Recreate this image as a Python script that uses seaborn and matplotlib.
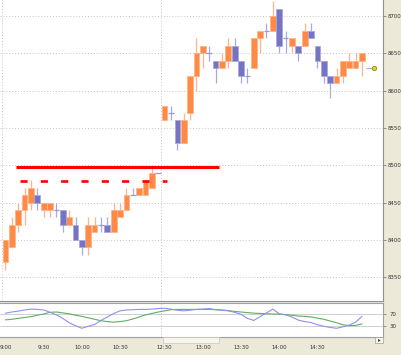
import matplotlib
matplotlib.use("Agg")
import matplotlib.pyplot as plt
from matplotlib.patches import Rectangle
import seaborn as sns
import pandas as pd

# 5-minute candles, morning 9:00-11:00 and afternoon from 12:30
opens = [8370, 8390, 8420, 8440, 8450, 8460, 8440, 8440, 8440, 8440, 8420, 8420, 8400,
         8390, 8410, 8420, 8420, 8410, 8430, 8440, 8460, 8460, 8460, 8470, 8490,
         8560, 8570, 8560, 8530, 8570, 8620, 8650, 8650, 8640, 8630, 8640, 8660, 8640,
         8620, 8630, 8670, 8680, 8680, 8710, 8670, 8660, 8660, 8660, 8680, 8660, 8640,
         8620, 8610, 8620, 8630, 8630, 8640]
highs = [8400, 8430, 8450, 8470, 8480, 8470, 8450, 8450, 8450, 8440, 8440, 8430, 8400,
         8430, 8430, 8430, 8430, 8450, 8450, 8470, 8470, 8470, 8480, 8500, 8490,
         8580, 8580, 8560, 8570, 8620, 8670, 8660, 8660, 8640, 8650, 8670, 8670, 8640,
         8630, 8670, 8680, 8690, 8720, 8710, 8680, 8670, 8660, 8690, 8690, 8660, 8640,
         8620, 8630, 8640, 8650, 8650, 8650]
lows = [8360, 8390, 8410, 8420, 8440, 8440, 8430, 8430, 8430, 8410, 8420, 8400, 8380,
        8380, 8410, 8410, 8410, 8410, 8430, 8440, 8460, 8460, 8460, 8470, 8490,
        8560, 8560, 8520, 8530, 8560, 8600, 8630, 8640, 8610, 8630, 8630, 8640, 8610,
        8610, 8630, 8650, 8670, 8680, 8650, 8650, 8650, 8640, 8660, 8670, 8630, 8610,
        8590, 8610, 8610, 8630, 8630, 8620]
closes = [8400, 8420, 8440, 8460, 8470, 8450, 8450, 8450, 8440, 8420, 8430, 8400, 8390,
          8420, 8420, 8420, 8410, 8440, 8440, 8460, 8460, 8470, 8480, 8490, 8490,
          8580, 8570, 8530, 8560, 8620, 8650, 8660, 8650, 8630, 8640, 8660, 8640, 8620,
          8620, 8670, 8680, 8680, 8700, 8660, 8670, 8670, 8650, 8680, 8670, 8640, 8620,
          8610, 8620, 8640, 8640, 8640, 8650]

# stochastic-like oscillator under the chart
osc_k = [73, 77, 80, 84, 87, 86, 84, 76, 67, 55, 40, 30, 21, 28, 34, 48, 60, 72, 81,
         84, 85, 86, 86, 87, 89, 90, 87, 83, 81, 83, 86, 87, 89, 85, 83, 81, 76, 69,
         55, 48, 61, 74, 87, 71, 67, 60, 49, 44, 41, 33, 28, 24, 21, 26, 32, 42, 62]
osc_d = [50, 52, 55, 58, 61, 66, 70, 76, 77, 74, 71, 66, 62, 57, 52, 47, 44, 42, 44,
         47, 53, 60, 67, 72, 77, 81, 85, 86, 86, 86, 86, 86, 86, 85, 84, 82, 79, 77,
         75, 73, 72, 71, 70, 70, 68, 66, 63, 62, 60, 56, 52, 46, 40, 33, 30, 31, 36]

tick_pos = [0, 6, 12, 18, 25, 31, 37, 43, 49]
tick_labels = ["9:00", "9:30", "10:00", "10:30", "12:30", "13:00", "13:30", "14:00", "14:30"]
price_ticks = [8350, 8400, 8450, 8500, 8550, 8600, 8650, 8700]
session_starts = [-0.5, 24.5]

resistance = 8498      # solid red line
old_top = 8479         # dashed red line
last_mark = 8630

UP = "#ff8a45"
UP_EDGE = "#ffb48a"
DOWN = "#7474c2"
DOWN_EDGE = "#a8a8e2"
BEIGE = "#ece9d8"
GRID = "#c4c4c4"

sns.set_style("white")
plt.rcParams["font.family"] = ["DejaVu Sans"]

fig = plt.figure(figsize=(4.01, 3.55), dpi=100)
fig.patch.set_facecolor(BEIGE)
ax = fig.add_axes([0, 54 / 355, 383 / 401, 301 / 355])
ax2 = fig.add_axes([0, 18 / 355, 383 / 401, 34 / 355])

x = list(range(len(opens)))

# wicks
wick_cols = [UP_EDGE if c > o else DOWN_EDGE for o, c in zip(opens, closes)]
ax.vlines(x, lows, highs, colors=wick_cols, linewidth=0.9, zorder=2)

# bodies
ups = [i for i in x if closes[i] > opens[i]]
downs = [i for i in x if closes[i] < opens[i]]
dojis = [i for i in x if closes[i] == opens[i]]
ax.bar(ups, [closes[i] - opens[i] for i in ups], bottom=[opens[i] for i in ups],
       width=0.9, color=UP, edgecolor=UP_EDGE, linewidth=0.6, zorder=3)
ax.bar(downs, [opens[i] - closes[i] for i in downs], bottom=[closes[i] for i in downs],
       width=0.9, color=DOWN, edgecolor=DOWN_EDGE, linewidth=0.6, zorder=3)
ax.hlines([opens[i] for i in dojis], [i - 0.45 for i in dojis], [i + 0.45 for i in dojis],
          colors="#9898dc", linewidth=0.9, zorder=3)

# red lines
ax.hlines(resistance, 1.65, 33.5, colors="#ff0000", linewidth=2.2, zorder=4)
ax.hlines(old_top, 2.3, 25.4, colors="#ff0000", linewidth=1.9, linestyles=(0, (2.7, 5.0)),
          zorder=4)

# current price marker
ax.hlines(last_mark, 56.7, 57.8, colors="#a8a8e0", linewidth=0.9, zorder=4)
ax.plot([57.9], [last_mark], marker="o", markersize=3.2, color="#d8d820",
        markeredgecolor="#808000", markeredgewidth=0.5, zorder=5)

ax.set_xlim(-0.86, 59.3)
ax.set_ylim(8318, 8721.5)
ax.set_yticks(price_ticks)
ax.set_xticks([])
for p in price_ticks:
    ax.axhline(p, color=GRID, linewidth=0.7, linestyle=(0, (1, 2)), zorder=1)
for s in session_starts:
    ax.axvline(s, color=GRID, linewidth=0.7, linestyle=(0, (1, 2)), zorder=1)
ax.yaxis.tick_right()
ax.tick_params(axis="y", direction="out", length=2, width=0.6, color="#808080",
               labelsize=4.3, pad=1, labelcolor="#333333")
for lbl in ax.get_yticklabels():
    lbl.set_fontstretch("condensed")
for side in ["top", "left"]:
    ax.spines[side].set_visible(False)
for side in ["right", "bottom"]:
    ax.spines[side].set_color("#909090")
    ax.spines[side].set_linewidth(0.8)

# oscillator panel
osc = pd.DataFrame({"i": x, "k": osc_k, "d": osc_d})
sns.lineplot(data=osc, x="i", y="d", ax=ax2, color="#5fae5f", linewidth=0.8)
sns.lineplot(data=osc, x="i", y="k", ax=ax2, color="#9090f0", linewidth=0.8)
ax2.axhline(70, color="#cfcfcf", linewidth=0.7, zorder=0)
ax2.axhline(30, color="#cfcfcf", linewidth=0.7, zorder=0)
ax2.axvline(24.5, color=GRID, linewidth=0.7, linestyle=(0, (1, 2)), zorder=0)
ax2.set_xlim(-0.86, 59.3)
ax2.set_ylim(-9, 108)
ax2.set_xlabel("")
ax2.set_ylabel("")
ax2.set_yticks([30, 70])
ax2.yaxis.tick_right()
ax2.tick_params(axis="y", direction="out", length=2, width=0.6, color="#808080",
                labelsize=4.3, pad=3, labelcolor="#333333")
ax2.set_xticks(tick_pos)
ax2.set_xticklabels(tick_labels)
ax2.tick_params(axis="x", direction="out", length=2, width=0.6, color="#808080",
                labelsize=4.3, pad=4, labelcolor="#333333")
for lbl in ax2.get_xticklabels() + ax2.get_yticklabels():
    lbl.set_fontstretch("condensed")
ax2.spines["left"].set_visible(False)
for side in ["top", "bottom", "right"]:
    ax2.spines[side].set_color("#a0a0a0")
    ax2.spines[side].set_linewidth(0.8)

# little scrollbar strip under the panel
fig.patches.append(Rectangle((163 / 401, 12 / 355), 56 / 401, 6 / 355,
                             transform=fig.transFigure, facecolor="#f6f5ee",
                             edgecolor="#c8c6b8", linewidth=0.5, zorder=0))
fig.patches.append(Rectangle((375 / 401, 12 / 355), 8 / 401, 6 / 355,
                             transform=fig.transFigure, facecolor="#f6f5ee",
                             edgecolor="#a0a090", linewidth=0.5, zorder=0))
fig.text(379 / 401, 15 / 355, "▸", fontsize=4, ha="center", va="center",
         color="#404040")

fig.savefig("out.png", dpi=100, facecolor=BEIGE)
